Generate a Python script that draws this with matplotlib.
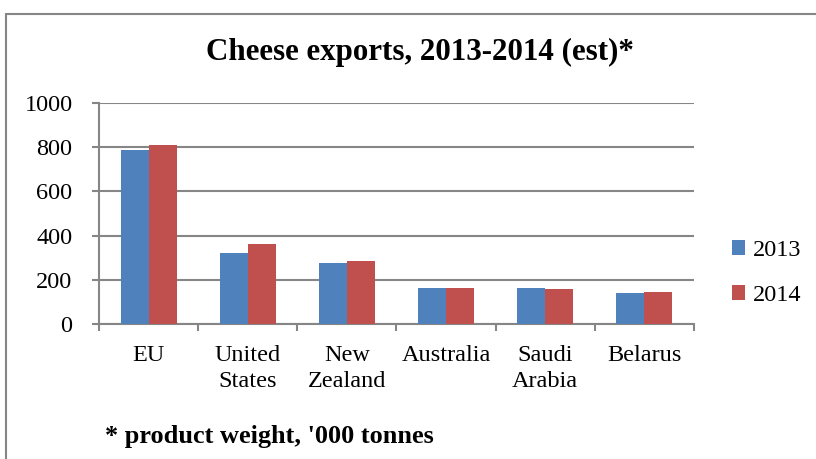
import numpy as np
import matplotlib.pyplot as plt
from matplotlib.patches import Rectangle

categories = ['EU', 'United\nStates', 'New\nZealand', 'Australia', 'Saudi\nArabia', 'Belarus']
exports_2013 = [787, 320, 276, 163, 161, 140]
exports_2014 = [808, 360, 285, 163, 158, 143]
yticks = [0, 200, 400, 600, 800, 1000]

plt.rcParams['font.family'] = ['Liberation Serif', 'DejaVu Serif']
grey = '#868686'

fig = plt.figure(figsize=(8.16, 4.59), dpi=100)
# outer chart frame (cropped on right and bottom)
fig.patches.append(Rectangle((6 / 816, -0.1), 1.2, 1 - 14 / 459 + 0.1,
                             transform=fig.transFigure, fill=False,
                             edgecolor=grey, linewidth=1.5))

ax = fig.add_axes([99 / 816, 1 - 324 / 459, 595 / 816, 221 / 459])
x = np.arange(len(categories))
w = 0.283
ax.bar(x - w / 2, exports_2013, w, color='#4F81BD', label='2013', zorder=3)
ax.bar(x + w / 2, exports_2014, w, color='#C0504D', label='2014', zorder=3)

ax.set_xlim(-0.5, len(categories) - 0.5)
ax.set_ylim(0, 1000)
ax.set_yticks(yticks)
ax.tick_params(axis='y', labelsize=17.5, length=5, width=1.5, color=grey, pad=14)
ax.set_xticks(x)
ax.set_xticklabels(categories, fontsize=17.5, linespacing=1.35)
ax.tick_params(axis='x', length=0, pad=15)
ax.set_xticks(np.arange(len(categories) + 1) - 0.5, minor=True)
ax.tick_params(axis='x', which='minor', length=5, width=1.5, color=grey)
ax.grid(axis='y', color=grey, linewidth=1.5, zorder=0)
for s in ['top', 'right']:
    ax.spines[s].set_visible(False)
for s in ['left', 'bottom']:
    ax.spines[s].set_color(grey)
    ax.spines[s].set_linewidth(1.5)

fig.text(420 / 816, 1 - 52 / 459, 'Cheese exports, 2013-2014 (est)*',
         ha='center', va='center', fontsize=22.3, fontweight='bold')
fig.text(105 / 816, 1 - 436 / 459, "* product weight, '000 tonnes",
         ha='left', va='center', fontsize=18.9, fontweight='bold')

fig.legend(loc='center left', bbox_to_anchor=(710 / 816, 1 - 273 / 459),
           frameon=False, fontsize=17.5, handlelength=0.55, handleheight=0.55,
           handletextpad=0.3, labelspacing=1.0)

fig.savefig('out.png', dpi=100)
